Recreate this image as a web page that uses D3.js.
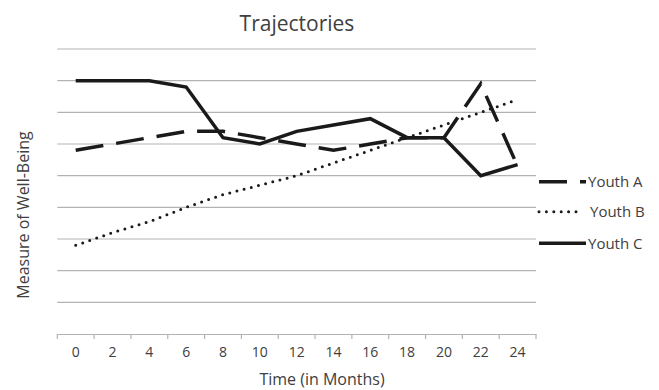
<!DOCTYPE html>
<html><head><meta charset="utf-8">
<script src="https://cdn.jsdelivr.net/npm/d3@7"></script>
<style>body{margin:0;background:#fff}svg{display:block}text{font-family:"Open Sans",sans-serif;fill:#404040}</style>
</head><body><svg id="c" width="659" height="390"></svg>
<script>
const months = ["0","2","4","6","8","10","12","14","16","18","20","22","24"];
const youthA = [5.8,6.0,6.2,6.4,6.4,6.2,6.0,5.8,6.0,6.2,6.2,7.9,5.3];
const youthB = [2.8,3.2,3.55,4.0,4.4,4.7,5.0,5.4,5.8,6.2,6.6,7.0,7.4];
const youthC = [8,8,8,7.8,6.2,6.0,6.4,6.6,6.8,6.2,6.2,5.0,5.35];
const seriesNames = ["Youth A","Youth B","Youth C"];
const gridValues = [1,2,3,4,5,6,7,8,9];

const svg = d3.select("#c");
const x = d3.scaleBand().domain(months).range([57.3, 536]).padding(0);
const y = d3.scaleLinear().domain([0, 9]).range([334, 49]);

// gridlines
svg.append("g").selectAll("line").data(gridValues).join("line")
  .attr("x1", 57.3).attr("x2", 536)
  .attr("y1", d => y(d)).attr("y2", d => y(d))
  .attr("stroke", "#b3b3b3").attr("stroke-width", 1.2);

// x axis
const xAxis = d3.axisBottom(x).tickSize(0).tickPadding(13);
const gx = svg.append("g").attr("transform", `translate(0,${y(0)})`).call(xAxis);
gx.select(".domain").attr("stroke", "#b3b3b3").attr("stroke-width", 1.2);
gx.selectAll("text").attr("font-size", 14).attr("fill", "#404040").attr("font-family", "'Open Sans',sans-serif");
const bounds = months.map(m => x(m)).concat([x(months[months.length-1]) + x.bandwidth()]);
gx.selectAll(".bt").data(bounds).join("line").attr("class","bt")
  .attr("x1", d => d).attr("x2", d => d).attr("y1", 0).attr("y2", 5)
  .attr("stroke", "#b3b3b3").attr("stroke-width", 1.2);

const styles = [
  {data: youthA, dash: "28,13", width: 3.5, cap: "butt"},
  {data: youthB, dash: "0,7.4", width: 3, cap: "round"},
  {data: youthC, dash: null, width: 3.5, cap: "butt"}
];
const line = d3.line().x((d,i) => x(months[i]) + x.bandwidth()/2).y(d => y(d));
styles.forEach(s => {
  svg.append("path").datum(s.data).attr("d", line)
    .attr("fill", "none").attr("stroke", "#1a1a1a")
    .attr("stroke-width", s.width).attr("stroke-linecap", s.cap)
    .attr("stroke-linejoin", "miter")
    .attr("stroke-dasharray", s.dash);
});

// legend
const lg = svg.append("g");
const legY = [181.7, 211.7, 243.3];
seriesNames.forEach((n, i) => {
  const s = styles[i];
  lg.append("line").attr("x1", 539).attr("x2", i === 1 ? 581 : 586)
    .attr("y1", legY[i]).attr("y2", legY[i])
    .attr("stroke", "#1a1a1a").attr("stroke-width", s.width)
    .attr("stroke-linecap", s.cap).attr("stroke-dasharray", s.dash);
  lg.append("text").attr("x", i === 1 ? 590 : 588).attr("y", legY[i]).attr("dy", "0.35em")
    .attr("font-size", 15).text(n);
});

// titles
svg.append("text").attr("x", 297).attr("y", 31).attr("text-anchor", "middle")
  .attr("font-size", 21).text("Trajectories");
svg.append("text").attr("x", 322).attr("y", 385).attr("text-anchor", "middle")
  .attr("font-size", 16).text("Time (in Months)");
svg.append("text").attr("transform", "translate(29,215) rotate(-90)")
  .attr("text-anchor", "middle").attr("font-size", 16).text("Measure of Well-Being");
</script></body></html>
